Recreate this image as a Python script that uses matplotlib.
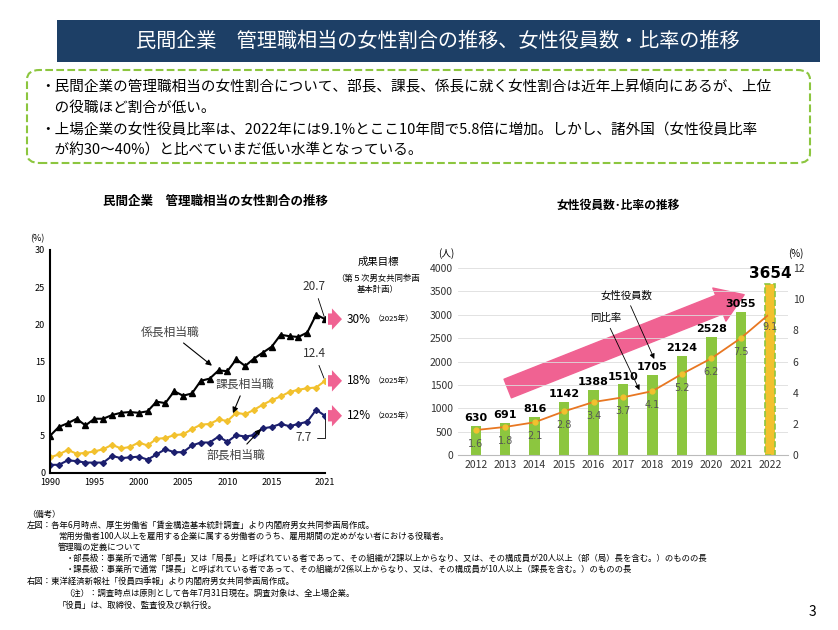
import matplotlib
matplotlib.use('Agg')
import matplotlib.pyplot as plt
import numpy as np
from matplotlib.patches import FancyBboxPatch, FancyArrow, Rectangle

plt.rcParams['font.family'] = ['Noto Sans CJK JP', 'DejaVu Sans']

W, H = 838, 630

# left chart data
years_l = list(range(1990, 2022))
kakari = [5.0, 6.2, 6.7, 7.3, 6.4, 7.3, 7.3, 7.8, 8.1, 8.2, 8.1, 8.3, 9.6, 9.4, 11.0, 10.4,
          10.7, 12.4, 12.7, 13.8, 13.7, 15.3, 14.4, 15.4, 16.2, 17.0, 18.6, 18.4, 18.3, 18.9, 21.3, 20.7]
kacho = [2.1, 2.5, 3.1, 2.6, 2.7, 2.9, 3.2, 3.8, 3.3, 3.5, 4.1, 3.7, 4.6, 4.7, 5.1, 5.2,
         5.9, 6.5, 6.6, 7.2, 7.0, 8.1, 7.9, 8.5, 9.2, 9.8, 10.3, 10.9, 11.2, 11.4, 11.5, 12.4]
bucho = [1.1, 1.1, 1.7, 1.6, 1.4, 1.4, 1.4, 2.3, 2.0, 2.1, 2.2, 1.8, 2.5, 3.2, 2.8, 2.8,
         3.7, 4.1, 4.1, 4.9, 4.2, 5.1, 4.9, 5.1, 6.0, 6.2, 6.6, 6.3, 6.6, 6.9, 8.5, 7.7]
targets = ['30%', '18%', '12%']
target_vals = [20.7, 12.4, 7.7]

# right chart data
years_r = list(range(2012, 2023))
officers = [630, 691, 816, 1142, 1388, 1510, 1705, 2124, 2528, 3055, 3654]
ratio = [1.6, 1.8, 2.1, 2.8, 3.4, 3.7, 4.1, 5.2, 6.2, 7.5, 9.1]

fig = plt.figure(figsize=(W / 100, H / 100), dpi=100)
fig.patch.set_facecolor('white')

def fx(x): return x / W
def fy(y): return 1 - y / H

# header banner
fig.patches.append(Rectangle((fx(57), fy(62)), fx(820) - fx(57), fy(20) - fy(62),
                             transform=fig.transFigure, facecolor='#1d3f66', edgecolor='none'))
fig.text(fx(438), fy(41), '民間企業　管理職相当の女性割合の推移、女性役員数・比率の推移',
         color='white', fontsize=14.5, ha='center', va='center')

# dashed box
fig.patches.append(FancyBboxPatch((fx(27), fy(163)), fx(810) - fx(27), fy(70) - fy(163),
                                  boxstyle='round,pad=0,rounding_size=0.015',
                                  transform=fig.transFigure, facecolor='white',
                                  edgecolor='#8cc63f', linestyle='--', linewidth=1.5))
lines = [('・民間企業の管理職相当の女性割合について、部長、課長、係長に就く女性割合は近年上昇傾向にあるが、上位', 88),
         ('　の役職ほど割合が低い。', 108),
         ('・上場企業の女性役員比率は、2022年には9.1%とここ10年間で5.8倍に増加。しかし、諸外国（女性役員比率', 130),
         ('　が約30～40%）と比べていまだ低い水準となっている。', 151)]
for t, y in lines:
    fig.text(fx(40), fy(y), t, fontsize=10.5, va='center', ha='left')

# ---- left chart ----
axl = fig.add_axes([fx(50), fy(473), fx(325) - fx(50), fy(250) - fy(473)])
axl.plot(years_l, kakari, color='black', marker='^', ms=4, lw=1.5)
axl.plot(years_l, kacho, color='#f2c12e', marker='D', ms=3, lw=1.5)
axl.plot(years_l, bucho, color='#1c1f6e', marker='D', ms=3, lw=1.5)
axl.set_xlim(1990, 2021)
axl.set_ylim(0, 30)
axl.set_xticks([1990, 1995, 2000, 2005, 2010, 2015, 2021])
axl.set_yticks(range(0, 31, 5))
axl.tick_params(labelsize=6.5, length=0)
for s in ['top', 'right']:
    axl.spines[s].set_visible(False)
axl.spines['left'].set_linewidth(1.5)
axl.spines['bottom'].set_linewidth(1.5)
axl.text(-0.02, 1.04, '(%)', transform=axl.transAxes, fontsize=6.5, ha='right')
fig.text(fx(215), fy(205), '民間企業　管理職相当の女性割合の推移', fontsize=9,
         fontweight='bold', ha='center')
axl.annotate('係長相当職', xy=(2008.5, 14.2), xytext=(2003.5, 18.5), fontsize=8.5,
             color='#444', ha='center', arrowprops=dict(arrowstyle='-|>', color='black', lw=0.8))
axl.annotate('課長相当職', xy=(2010.5, 7.7), xytext=(2012, 11.5), fontsize=8.5,
             color='#444', ha='center', arrowprops=dict(arrowstyle='-|>', color='black', lw=0.8))
axl.annotate('部長相当職', xy=(2014, 6.2), xytext=(2011, 1.9), fontsize=8.5,
             color='#444', ha='center', arrowprops=dict(arrowstyle='-|>', color='black', lw=0.8))
axl.annotate('20.7', xy=(2021, 20.7), xytext=(2019.8, 24.6), fontsize=8.5, ha='center',
             color='#333', arrowprops=dict(arrowstyle='-', color='black', lw=0.6))
axl.annotate('12.4', xy=(2021, 12.4), xytext=(2019.8, 15.6), fontsize=8.5, ha='center',
             color='#333', arrowprops=dict(arrowstyle='-', color='black', lw=0.6))
axl.annotate('7.7', xy=(2021, 7.7), xytext=(2018.6, 4.3), fontsize=8.5, ha='center',
             color='#333', arrowprops=dict(arrowstyle='-', color='black', lw=0.6,
                                           connectionstyle='angle,angleA=0,angleB=90,rad=0'))
fig.text(fx(378), fy(262), '成果目標', fontsize=7.5, ha='center', va='center')
fig.text(fx(378), fy(284), '（第５次男女共同参画\n基本計画）', fontsize=6, ha='center', va='center',
         linespacing=1.2)
for lab, v in zip(targets, target_vals):
    yy = axl.transData.transform((2021, v))[1] / (H)
    fig.patches.append(FancyArrow(fx(328), yy, fx(342) - fx(328), 0, width=0.018,
                                  head_width=0.034, head_length=0.012, length_includes_head=True,
                                  transform=fig.transFigure, color='#f06292', ec='none'))
    fig.text(fx(347), yy, lab, fontsize=8.5, va='center', ha='left')
    fig.text(fx(374), yy, '（2025年）', fontsize=5.5, va='center', ha='left')

# ---- right chart ----
axr = fig.add_axes([fx(458), fy(455), fx(788) - fx(458), fy(268) - fy(455)])
x = np.arange(len(years_r))
colors = ['#8cc63f'] * (len(x) - 1) + ['#f2c12e']
bars = axr.bar(x, officers, width=0.35, color=colors, zorder=2)
bars[-1].set_edgecolor('#8cc63f')
bars[-1].set_linestyle('--')
bars[-1].set_linewidth(1.2)
for i, v in enumerate(officers):
    axr.text(i, v + 60, str(v), ha='center', va='bottom',
             fontsize=11 if i == len(x) - 1 else 8, fontweight='bold', family='DejaVu Sans')
axr.set_ylim(0, 4000)
axr.set_xlim(-0.6, len(x) - 0.4)
axr.set_yticks(range(0, 4001, 500))
axr.set_xticks(x)
axr.set_xticklabels([str(y) for y in years_r])
axr.tick_params(labelsize=7.5, length=0, colors='#333')
axr.grid(axis='y', color='#dddddd', lw=0.6, zorder=0)
for s in axr.spines.values():
    s.set_visible(False)
axr.spines['bottom'].set_visible(True)
axr.spines['bottom'].set_color('#bbbbbb')
ax2 = axr.twinx()
ax2.plot(x, ratio, color='#e87722', lw=1.3, marker='o', ms=3.5, mfc='#f2c12e', mec='#f2c12e', zorder=3)
for i, v in enumerate(ratio):
    ax2.text(i, v - 0.55, f'{v:g}', ha='center', va='top', fontsize=7, color='#555', family='DejaVu Sans')
ax2.set_ylim(0, 12)
ax2.set_yticks(range(0, 13, 2))
ax2.tick_params(labelsize=7.5, length=0, colors='#333')
for s in ax2.spines.values():
    s.set_visible(False)
axr.text(-0.06, 1.06, '(人)', transform=axr.transAxes, fontsize=7)
ax2.text(1.0, 1.06, '(%)', transform=ax2.transAxes, fontsize=7)
fig.text(fx(618), fy(209), '女性役員数･比率の推移', fontsize=8.5, fontweight='bold', ha='center')
axr.annotate('', xy=(9.2, 3450), xytext=(1.0, 1400),
             arrowprops=dict(arrowstyle='simple,head_width=1.6,head_length=1.2,tail_width=0.9',
                             color='#f06292', mutation_scale=16), zorder=1)
axr.annotate('女性役員数', xy=(6.1, 2000), xytext=(5.1, 3350), fontsize=7.5, ha='center',
             arrowprops=dict(arrowstyle='-|>', color='black', lw=0.6))
ax2.annotate('同比率', xy=(5.6, 4.0), xytext=(4.4, 8.6), fontsize=7.5, ha='center',
             arrowprops=dict(arrowstyle='-|>', color='black', lw=0.6))

# notes
notes = [('（備考）', 27, 514),
         ('左図：各年6月時点、厚生労働省「賃金構造基本統計調査」より内閣府男女共同参画局作成。', 27, 525),
         ('常用労働者100人以上を雇用する企業に属する労働者のうち、雇用期間の定めがない者における役職者。', 58, 536),
         ('管理職の定義について', 58, 547),
         ('・部長級：事業所で通常「部長」又は「局長」と呼ばれている者であって、その組織が2課以上からなり、又は、その構成員が20人以上（部（局）長を含む。）のものの長', 66, 558),
         ('・課長級：事業所で通常「課長」と呼ばれている者であって、その組織が2係以上からなり、又は、その構成員が10人以上（課長を含む。）のものの長', 66, 569),
         ('右図：東洋経済新報社「役員四季報」より内閣府男女共同参画局作成。', 27, 581),
         ('（注）：調査時点は原則として各年7月31日現在。調査対象は、全上場企業。', 64, 593),
         ('「役員」は、取締役、監査役及び執行役。', 58, 605)]
for t, xx, yy in notes:
    fig.text(fx(xx), fy(yy), t, fontsize=6, va='center', ha='left')
fig.text(fx(812), fy(612), '3', fontsize=10, ha='center', va='center')

fig.savefig('out.png', dpi=100, facecolor='white')
